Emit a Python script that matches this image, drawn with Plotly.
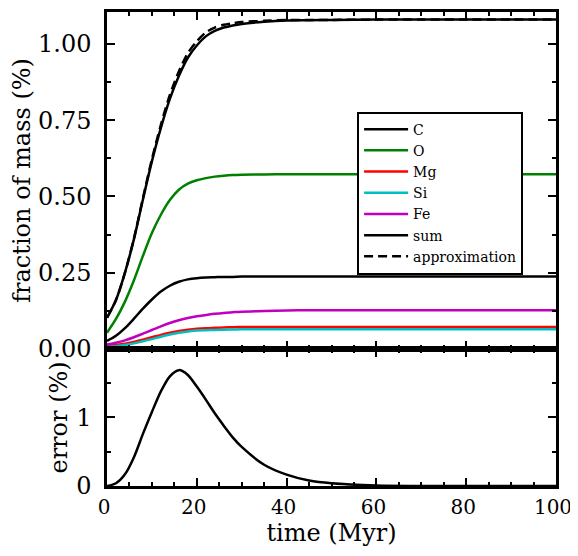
import plotly.graph_objects as go
from plotly.subplots import make_subplots

# time grid (Myr)
time = [0, 2, 4, 6, 8, 10, 12, 14, 16, 18, 20, 22, 24, 26, 28, 30,
        35, 40, 45, 50, 60, 70, 80, 90, 100]

# fraction of mass (%)
C = [0.026, 0.043, 0.068, 0.099, 0.132, 0.162, 0.188, 0.207, 0.220, 0.228, 0.232,
     0.234, 0.235, 0.236, 0.236, 0.237, 0.237, 0.237, 0.237, 0.237, 0.237, 0.237,
     0.237, 0.237, 0.237]
O = [0.053, 0.098, 0.155, 0.225, 0.305, 0.380, 0.440, 0.488, 0.522, 0.542, 0.553,
     0.560, 0.565, 0.568, 0.570, 0.571, 0.572, 0.573, 0.573, 0.573, 0.573, 0.573,
     0.573, 0.573, 0.573]
Mg = [0.010, 0.013, 0.017, 0.023, 0.030, 0.038, 0.046, 0.053, 0.059, 0.063, 0.066,
      0.068, 0.069, 0.070, 0.071, 0.0715, 0.072, 0.072, 0.072, 0.072, 0.072, 0.072,
      0.072, 0.072, 0.072]
Si = [0.007, 0.009, 0.013, 0.018, 0.025, 0.032, 0.040, 0.047, 0.053, 0.057, 0.060,
      0.061, 0.062, 0.063, 0.0635, 0.064, 0.064, 0.064, 0.064, 0.064, 0.064, 0.064,
      0.064, 0.064, 0.064]
Fe = [0.014, 0.020, 0.028, 0.038, 0.050, 0.062, 0.074, 0.085, 0.094, 0.101, 0.107,
      0.111, 0.115, 0.118, 0.120, 0.122, 0.124, 0.126, 0.127, 0.127, 0.127, 0.127,
      0.127, 0.127, 0.127]
total = [0.102, 0.160, 0.250, 0.360, 0.490, 0.615, 0.725, 0.820, 0.895, 0.955, 0.995,
         1.025, 1.043, 1.054, 1.061, 1.066, 1.073, 1.077, 1.078, 1.079, 1.080, 1.080,
         1.080, 1.080, 1.080]
approximation = [0.102, 0.160, 0.250, 0.362, 0.494, 0.622, 0.735, 0.833, 0.910, 0.970,
                 1.009, 1.038, 1.054, 1.063, 1.068, 1.072, 1.076, 1.079, 1.079, 1.079,
                 1.080, 1.080, 1.080, 1.080, 1.080]

# error (%)
error = [0.0, 0.04, 0.17, 0.42, 0.76, 1.08, 1.38, 1.60, 1.69, 1.62, 1.45, 1.26, 1.06,
         0.88, 0.71, 0.57, 0.31, 0.165, 0.08, 0.04, 0.008, 0.001, 0.0, 0.0, 0.0]

x_ticks = [0, 20, 40, 60, 80, 100]
y_ticks_top = [0.0, 0.25, 0.5, 0.75, 1.0]
y_ticks_bottom = [0, 1]

FONT = "DejaVu Serif"

fig = make_subplots(rows=2, cols=1, shared_xaxes=True, vertical_spacing=0,
                    row_heights=[339, 138])

series = [("C", C, "black", "solid"),
          ("O", O, "#008000", "solid"),
          ("Mg", Mg, "#ff0000", "solid"),
          ("Si", Si, "#00bfbf", "solid"),
          ("Fe", Fe, "#bf00bf", "solid"),
          ("sum", total, "black", "solid"),
          ("approximation", approximation, "black", "9px,5px")]

for name, vals, col, dash in series:
    fig.add_trace(go.Scatter(x=time, y=vals, name=name, mode="lines",
                             line=dict(color=col, width=2.5, dash=dash, shape="spline",
                                       smoothing=0.8)),
                  row=1, col=1)

fig.add_trace(go.Scatter(x=time, y=error, mode="lines", showlegend=False,
                         line=dict(color="black", width=2.5, shape="spline", smoothing=0.8)),
              row=2, col=1)

axis_common = dict(showline=True, linecolor="black", linewidth=2.5, mirror="ticks",
                   ticks="inside", ticklen=8, tickwidth=1.5, tickcolor="black",
                   showgrid=False, zeroline=False,
                   tickfont=dict(family=FONT, size=24, color="black"))

fig.update_xaxes(**axis_common, range=[0, 100], tickvals=x_ticks,
                 minor=dict(ticks="inside", ticklen=4, tickwidth=1.5, dtick=5,
                            tickcolor="black", showgrid=False))
fig.update_xaxes(showticklabels=False, row=1, col=1)
fig.update_xaxes(title=dict(text="time (Myr)", font=dict(family=FONT, size=24, color="black"),
                            standoff=0), ticklabelstandoff=1, ticklabelshift=-3,
                 tickfont=dict(family=FONT, size=20, color="black"),
                 ticklabeloverflow="allow", row=2, col=1)

fig.update_yaxes(**axis_common)
fig.update_yaxes(range=[0, 1.105], tickvals=y_ticks_top, tickformat=".2f",
                 minor=dict(ticks="inside", ticklen=4, tickwidth=1.5, dtick=0.125,
                            tickcolor="black", showgrid=False),
                 title=dict(text="fraction of mass (%)",
                            font=dict(family=FONT, size=24, color="black"), standoff=2),
                 ticklabelstandoff=8, row=1, col=1)
fig.update_yaxes(range=[0, 2.0], tickvals=y_ticks_bottom,
                 minor=dict(ticks="inside", ticklen=4, tickwidth=1.5,
                            tickvals=[0.5, 1.5], tickcolor="black", showgrid=False),
                 title=dict(text="error (%)", font=dict(family=FONT, size=24, color="black"),
                            standoff=2),
                 ticklabelstandoff=8, row=2, col=1)

fig.update_layout(
    width=570, height=548,
    margin=dict(l=99, r=22, t=1, b=70),
    paper_bgcolor="white", plot_bgcolor="white",
    showlegend=True,
    legend=dict(x=0.557, y=0.790, xanchor="left", yanchor="top",
                bgcolor="white", bordercolor="black", borderwidth=2,
                font=dict(family=FONT, size=14, color="black"),
                itemwidth=44, tracegroupgap=0),
)

fig.write_html("out.html")
